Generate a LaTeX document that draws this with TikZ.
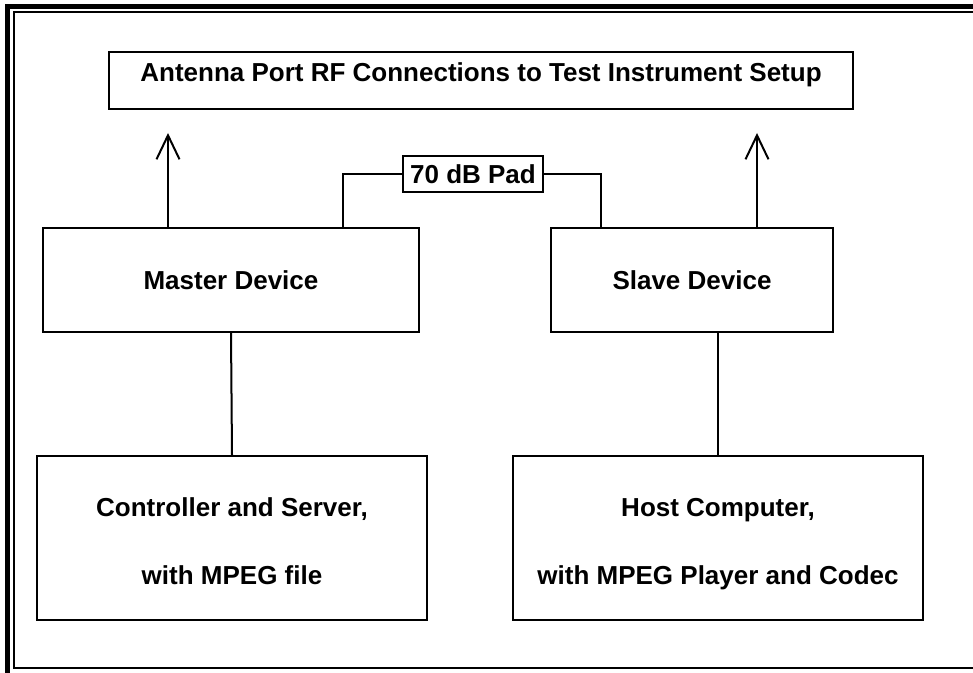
\documentclass[tikz,border=0pt]{standalone}
\usepackage{fontspec}
\setmainfont{Liberation Sans}
\usepackage{tikz}
\usetikzlibrary{arrows.meta}

\newcommand{\topstrut}{\rule{0pt}{15.4pt}}

\tikzset{
    unit/.style={draw, line width=1pt, font=\bfseries\fontsize{13pt}{16pt}\selectfont, inner sep=0pt},
    twoline/.style={align=center, font=\bfseries\fontsize{13pt}{34pt}\selectfont,
        execute at end node=\rule[-3pt]{0pt}{3pt}},
    wire/.style={line width=1pt},
    rflink/.style={line width=1pt, -{Straight Barb[length=12pt, width=11.5pt, line width=1pt]}}
}

\begin{document}
\begin{tikzpicture}[x=0.5pt, y=-0.5pt]
    \useasboundingbox (0,0) rectangle (973,673);

    % double frame
    \draw[line width=2.7pt] (7.5,673) -- (7.5,6.5) -- (973,6.5);
    \draw[line width=1pt] (973,12.5) -- (13.5,12.5) -- (13.5,668) -- (973,668);

    % test setup
    \node[unit, minimum width=372pt, minimum height=28.5pt, text depth=8pt] (setup) at (481,80.5)
        {Antenna Port RF Connections to Test Instrument Setup};

    % devices
    \node[unit, minimum width=188pt, minimum height=52pt] (master) at (231,280) {Master Device};
    \node[unit, minimum width=141pt, minimum height=52pt] (slave) at (692,280) {Slave Device};
    \node[unit, minimum width=70pt, minimum height=18pt] (pad) at (473,174) {70 dB Pad};

    % computers
    \node[unit, twoline, minimum width=195pt, minimum height=82pt] (ctrl) at (232,538)
        {\topstrut Controller and Server,\\with MPEG file};
    \node[unit, twoline, minimum width=205pt, minimum height=82pt] (host) at (718,538)
        {\topstrut Host Computer,\\with MPEG Player and Codec};

    % antenna ports
    \coordinate (mport) at (168,133);
    \coordinate (sport) at (757,133);
    \draw[rflink] (mport |- master.north) -- (mport);
    \draw[rflink] (sport |- slave.north) -- (sport);

    % attenuator path
    \draw[wire] (pad.west) -| ([xshift=56pt]master.north);
    \draw[wire] (pad.east) -| ([xshift=-45.5pt]slave.north);

    % control links
    \draw[wire] (master.south) -- (ctrl.north);
    \draw[wire] (host.north |- slave.south) -- (host.north);
\end{tikzpicture}
\end{document}
